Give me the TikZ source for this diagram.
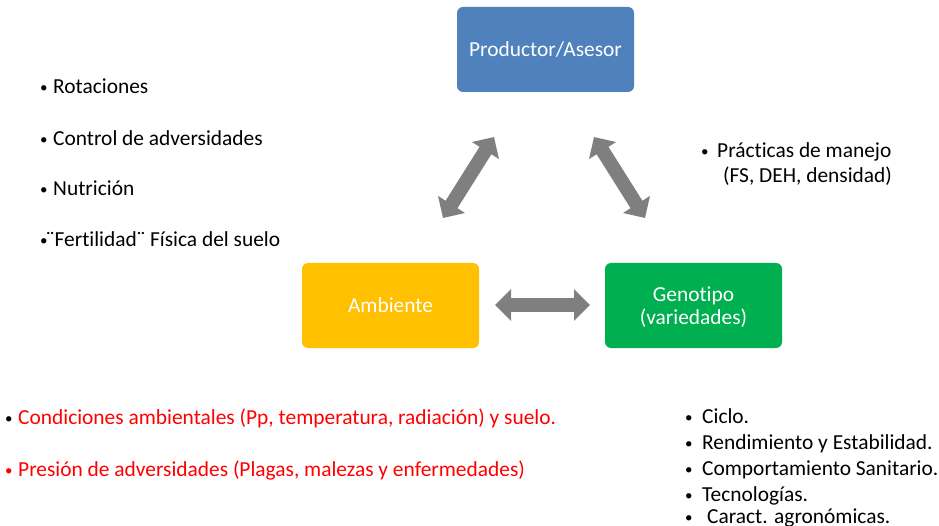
\documentclass[tikz,border=0pt]{standalone}
\usepackage{fontspec}
\setmainfont[Ligatures=CommonOff]{Carlito}
\usetikzlibrary{arrows.meta}
\definecolor{cblue}{HTML}{4F81BD}
\definecolor{cyellow}{HTML}{FFC000}
\definecolor{cgreen}{HTML}{00B050}
\definecolor{cgray}{HTML}{7F7F7F}
\definecolor{cred}{HTML}{FF0000}
\tikzset{
  boxnode/.style={rounded corners=6pt, minimum width=177pt, minimum height=85pt, text=white, align=center, font=\fontsize{21.4}{23}\selectfont, inner sep=0pt},
  txt/.style={anchor=base west, inner sep=0pt, font=\fontsize{21.4}{24}\selectfont},
  bul/.style={anchor=base west, inner sep=0pt, font=\fontsize{15}{18}\selectfont},
  bigarrow/.style={draw=cgray, line width=14pt, {Triangle[length=16pt,width=31pt]}-{Triangle[length=16pt,width=31pt]}},
}
\begin{document}
\begin{tikzpicture}[x=1pt,y=-1pt]
\useasboundingbox (0,0) rectangle (939,526);
\node[boxnode, fill=cblue] (prod) at (545.5,49.5) {Productor/Asesor};
\node[boxnode, fill=cyellow] (amb) at (390.5,305.5) {Ambiente};
\node[boxnode, fill=cgreen] (gen) at (693.5,305.5) {};
\node[text=white, align=center, font=\fontsize{21.4}{23}\selectfont, inner sep=0pt] (gentxt) at (693.5,307) {Genotipo\\(variedades)};

\coordinate (l1) at (443,218);
\coordinate (l2) at (494,137);
\coordinate (r1) at (594,137);
\coordinate (r2) at (645,218);
\coordinate (h1) at (495,305);
\coordinate (h2) at (590,305);
\draw[bigarrow] (l1) -- (l2);
\draw[bigarrow] (r1) -- (r2);
\draw[bigarrow] (h1) -- (h2);

% left list
\node[bul] (b1) at (40,93) {•};
\node[txt] (t1) at (53,94) {Rotaciones};
\node[bul] (b2) at (40,145) {•};
\node[txt] (t2) at (53,146) {Control de adversidades};
\node[bul] (b3) at (40,195) {•};
\node[txt] (t3) at (53,196) {Nutrición};
\node[bul] (b4) at (40,246) {•};
\node[txt] (t4) at (46,247) {¨Fertilidad¨ Física del suelo};

% right text
\node[bul] (b5) at (701,157) {•};
\node[txt] (t5) at (717,158) {Prácticas de manejo};
\node[txt] (t6) at (723,183) {(FS, DEH, densidad)};

% bottom left
\node[bul] (b7) at (5,423) {•};
\node[txt, text=cred] (t7) at (18,424) {Condiciones ambientales (Pp, temperatura, radiación) y suelo.};
\node[bul, text=cred] (b8) at (5,475) {•};
\node[txt, text=cred] (t8) at (18,476) {Presión de adversidades (Plagas, malezas y enfermedades)};

% bottom right
\node[bul] (b9) at (685,422) {•};
\node[txt] (t9) at (702,423) {Ciclo.};
\node[bul] (b10) at (685,448) {•};
\node[txt] (t10) at (702,449) {Rendimiento y Estabilidad.};
\node[bul] (b11) at (685,474) {•};
\node[txt] (t11) at (702,475) {Comportamiento Sanitario.};
\node[bul] (b12) at (685,500) {•};
\node[txt] (t12) at (702,501) {Tecnologías.};
\node[bul] (b13) at (685,522) {•};
\node[txt] (t13) at (707,523) {Caract. agronómicas.};
\end{tikzpicture}
\end{document}
